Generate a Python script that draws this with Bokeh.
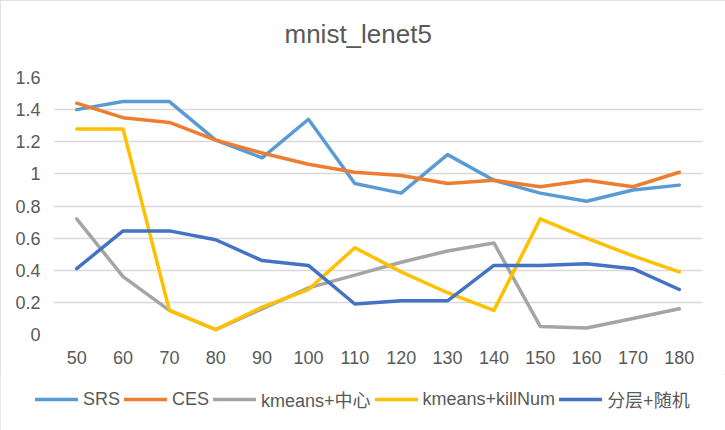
from bokeh.plotting import figure
from bokeh.models import FactorRange, Range1d, FixedTicker, Legend, LegendItem, Title
from bokeh.layouts import column
from bokeh.embed import file_html
from bokeh.resources import INLINE

x_labels = ["50", "60", "70", "80", "90", "100", "110", "120", "130", "140", "150", "160", "170", "180"]
srs = [1.40, 1.45, 1.45, 1.21, 1.10, 1.34, 0.94, 0.88, 1.12, 0.96, 0.88, 0.83, 0.90, 0.93]
ces = [1.44, 1.35, 1.32, 1.21, 1.13, 1.06, 1.01, 0.99, 0.94, 0.96, 0.92, 0.96, 0.92, 1.01]
km_center = [0.72, 0.36, 0.15, 0.03, 0.16, 0.29, 0.37, 0.45, 0.52, 0.57, 0.05, 0.04, 0.10, 0.16]
km_kill = [1.28, 1.28, 0.15, 0.03, 0.17, 0.28, 0.54, 0.39, 0.26, 0.15, 0.72, 0.60, 0.49, 0.39]
strat_rand = [0.41, 0.645, 0.645, 0.59, 0.46, 0.43, 0.19, 0.21, 0.21, 0.43, 0.43, 0.44, 0.41, 0.28]

series_names = ["SRS", "CES", "kmeans+中心", "kmeans+killNum", "分层+随机"]
series_values = [srs, ces, km_center, km_kill, strat_rand]
series_colors = ["#5B9BD5", "#ED7D31", "#A5A5A5", "#FFC000", "#4472C4"]

y_ticks = [0, 0.2, 0.4, 0.6, 0.8, 1, 1.2, 1.4, 1.6]
y_tick_labels = ["0", "0.2", "0.4", "0.6", "0.8", "1", "1.2", "1.4", "1.6"]

FONT = "'Liberation Sans', 'Noto Sans CJK SC', sans-serif"
TXT = "#595959"

p = figure(
    width=725, height=374,
    x_range=FactorRange(factors=x_labels, range_padding=0),
    y_range=Range1d(0, 1.6),
    output_backend="svg", toolbar_location=None,
    min_border_left=53, min_border_right=23, min_border_top=77, min_border_bottom=40,
)
p.frame_align = False
p.outline_line_color = None
p.background_fill_color = "white"
p.border_fill_color = "white"

# spacer between frame and title, then the title itself (further out)
p.add_layout(Title(text=" ", text_font_size="1px", standoff=26), "above")
title = Title(text="mnist_lenet5", text_font=FONT, text_font_size="26px",
              text_font_style="normal", text_color=TXT, align="left",
              offset=231, standoff=0)
p.add_layout(title, "above")

p.xgrid.grid_line_color = None
p.ygrid.grid_line_color = "#D9D9D9"
p.ygrid.grid_line_width = 1.5

p.yaxis.ticker = FixedTicker(ticks=y_ticks)
p.yaxis.major_label_overrides = {t: l for t, l in zip(y_ticks, y_tick_labels)}
for ax in (p.xaxis[0], p.yaxis[0]):
    ax.axis_line_color = None
    ax.major_tick_line_color = None
    ax.minor_tick_line_color = None
    ax.major_tick_out = 0
    ax.major_tick_in = 0
    ax.major_label_text_font = FONT
    ax.major_label_text_font_size = "18px"
    ax.major_label_text_color = TXT
p.xaxis.major_label_standoff = 16
p.yaxis.major_label_standoff = 13

for name, vals, col in zip(series_names, series_values, series_colors):
    p.line(x_labels, vals, line_color=col, line_width=3.5, line_join="round", line_cap="round")

# legend strip below the chart (its own lines lie outside its visible y range)
lg = figure(width=725, height=56,
            x_range=FactorRange(factors=x_labels, range_padding=0), y_range=Range1d(10, 11),
            x_axis_location=None, y_axis_location=None,
            output_backend="svg", toolbar_location=None,
            min_border_left=0, min_border_right=0, min_border_top=0, min_border_bottom=0)
lg.frame_align = False
lg.grid.grid_line_color = None
lg.outline_line_color = None
lg.border_fill_color = "white"
lg.background_fill_color = "white"
items = []
for name, vals, col in zip(series_names, series_values, series_colors):
    r = lg.line(x_labels, vals, line_color=col, line_width=3.5, line_cap="round")
    items.append(LegendItem(label=name, renderers=[r]))

legend = Legend(items=items, orientation="horizontal", location=(35, 18))
legend.label_text_font = FONT
legend.label_text_font_size = "18px"
legend.label_text_color = TXT
legend.glyph_width = 43
legend.label_standoff = 5
legend.spacing = 4
legend.padding = 0
legend.margin = 0
legend.border_line_color = None
legend.background_fill_alpha = 0
lg.add_layout(legend, "center")

layout = column(p, lg, spacing=0)
layout.styles = {"outline": "2px solid #d9d9d9", "outline-offset": "-2px"}

open("out.html", "w").write(file_html(layout, INLINE))
